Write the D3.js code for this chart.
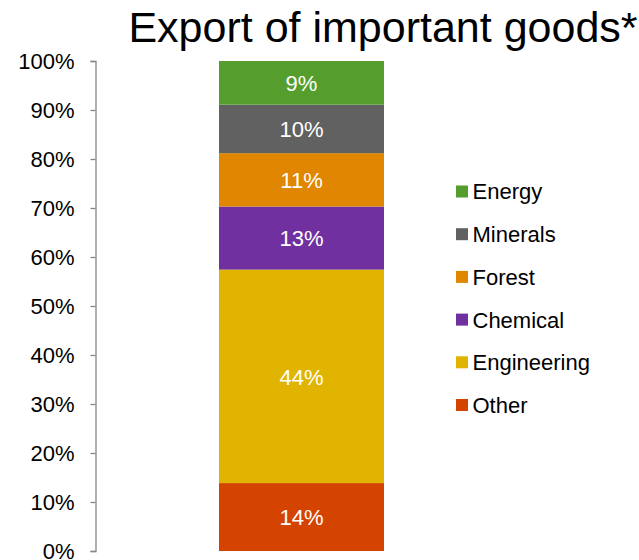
<!DOCTYPE html>
<html>
<head>
<meta charset="utf-8">
<script src="https://cdn.jsdelivr.net/npm/d3@7"></script>
<style>
  html, body { margin: 0; padding: 0; background: #fff; }
  svg { display: block; font-family: "Liberation Sans", Arial, sans-serif; }
</style>
</head>
<body>
<svg id="chart" width="639" height="560"></svg>
<script>
// Export shares by goods group (percent), bottom to top
const categories = ["Other", "Engineering", "Chemical", "Forest", "Minerals", "Energy"];
const shares = [14, 44, 13, 11, 10, 9];
const colors = ["#D54300", "#E0B400", "#7030A0", "#E08600", "#616161", "#559E2D"];
const barLabel = ["Exports"];
const yTicks = [0, 0.1, 0.2, 0.3, 0.4, 0.5, 0.6, 0.7, 0.8, 0.9, 1.0];
const title = "Export of important goods*";

const svg = d3.select("#chart");

// One row of data for the single stacked column
const row = { key: barLabel[0] };
categories.forEach((c, i) => { row[c] = shares[i]; });

const stack = d3.stack().keys(categories).offset(d3.stackOffsetExpand);
const layers = stack([row]);

const y = d3.scaleLinear().domain([0, 1]).range([551, 61]);
const x = d3.scaleBand().domain(barLabel).range([136.5, 466.5]).paddingInner(0).paddingOuter(0.5);
const color = d3.scaleOrdinal().domain(categories).range(colors);

// Title
svg.append("text")
  .attr("x", 383).attr("y", 42)
  .attr("text-anchor", "middle")
  .attr("font-size", 43)
  .attr("fill", "#000")
  .text(title);

// Y axis
const yAxis = d3.axisLeft(y)
  .tickValues(yTicks)
  .tickFormat(d3.format(".0%"))
  .tickSizeInner(5)
  .tickSizeOuter(5)
  .tickPadding(16);

const gAxis = svg.append("g")
  .attr("transform", "translate(95.5,0)")
  .call(yAxis);
gAxis.select(".domain").attr("stroke", "#868686").attr("stroke-width", 1.3);
gAxis.selectAll(".tick line").attr("stroke", "#868686").attr("stroke-width", 1.3);
gAxis.selectAll(".tick text")
  .attr("font-size", 22)
  .attr("dy", "0.34em")
  .attr("fill", "#000")
  .attr("font-family", "Liberation Sans, Arial, sans-serif");

// Stacked column segments
const segs = svg.append("g").selectAll("g")
  .data(layers)
  .join("g")
  .attr("fill", d => color(d.key));

segs.selectAll("rect")
  .data(d => d)
  .join("rect")
  .attr("x", d => x(d.data.key))
  .attr("width", x.bandwidth())
  .attr("y", d => y(d[1]))
  .attr("height", d => y(d[0]) - y(d[1]));

// Value labels inside segments
svg.append("g").selectAll("text")
  .data(layers)
  .join("text")
  .attr("x", d => x(d[0].data.key) + x.bandwidth() / 2)
  .attr("y", d => (y(d[0][0]) + y(d[0][1])) / 2)
  .attr("dy", "0.38em")
  .attr("text-anchor", "middle")
  .attr("font-size", 22)
  .attr("fill", "#fff")
  .text(d => d[0].data[d.key] + "%");

// Legend, top to bottom: Energy ... Other
const legendItems = categories.slice().reverse();
const legend = svg.append("g").selectAll("g")
  .data(legendItems)
  .join("g")
  .attr("transform", (d, i) => `translate(456, ${191.5 + i * 42.7})`);

legend.append("rect")
  .attr("x", 0).attr("y", -6)
  .attr("width", 12).attr("height", 12)
  .attr("fill", d => color(d));

legend.append("text")
  .attr("x", 16.5).attr("y", 0)
  .attr("dy", "0.36em")
  .attr("font-size", 22)
  .attr("fill", "#000")
  .text(d => d);
</script>
</body>
</html>
